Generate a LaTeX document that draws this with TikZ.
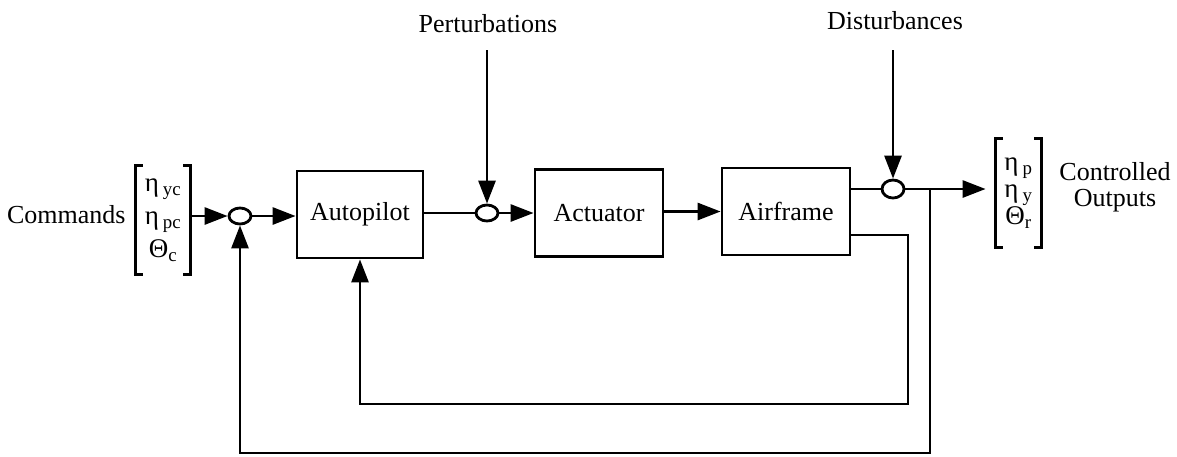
\documentclass[tikz,border=0pt]{standalone}
\usepackage{fontspec}
\setmainfont{Liberation Serif}
\usetikzlibrary{arrows.meta,shapes.geometric,calc}
\begin{document}
\begin{tikzpicture}[x=1pt,y=-1pt,
  line width=2.8pt,
  every node/.style={font=\fontsize{26}{30}\selectfont, inner sep=0pt},
  blockbox/.style={draw, minimum width=126pt, minimum height=87pt},
  sumnode/.style={draw, ellipse, minimum width=22pt, minimum height=16pt},
  sig/.style={-{Triangle[length=23pt,width=17pt]}},
  vecnode/.style={minimum height=106pt, align=center}
]
\useasboundingbox (0,0) rectangle (1177,456);

% nodes
\node[anchor=base east] (cmd) at (127,223) {Commands};
\node[vecnode, minimum width=52pt, font=\fontsize{27}{33}\selectfont] (cv) at (163,220)
  {η\hspace{4pt}\textsubscript{yc}\\ η\hspace{4pt}\textsubscript{pc}\\ Θ\textsubscript{c}};
\node[sumnode] (s1) at (240,216) {};
\node[blockbox] (ap) at (360,214.5) {Autopilot};
\node[sumnode] (s2) at (487,213) {};
\node[blockbox, minimum width=128pt] (act) at (599,213) {Actuator};
\node[blockbox, minimum width=128pt] (af) at (786,211.5) {Airframe};
\node[sumnode, minimum height=18pt] (s3) at (893,189) {};
\node[vecnode, minimum width=43pt, font=\fontsize{27}{27}\selectfont] (ov) at (1018.5,193)
  {η\hspace{4pt}\textsubscript{p}\\ η\hspace{4pt}\textsubscript{y}\\ Θ\textsubscript{r}};
\node[align=center, font=\fontsize{26}{26}\selectfont] (co) at (1115,187) {Controlled\\Outputs};
\node[anchor=base] (pert) at (488,32) {Perturbations};
\node[anchor=base] (dist) at (895,29) {Disturbances};

% brackets
\draw ([xshift=7pt]cv.north west) -- (cv.north west) -- (cv.south west) -- ([xshift=7pt]cv.south west);
\draw ([xshift=-7pt]cv.north east) -- (cv.north east) -- (cv.south east) -- ([xshift=-7pt]cv.south east);
\draw ([xshift=7pt]ov.north west) -- (ov.north west) -- (ov.south west) -- ([xshift=7pt]ov.south west);
\draw ([xshift=-7pt]ov.north east) -- (ov.north east) -- (ov.south east) -- ([xshift=-7pt]ov.south east);

% free ends / corners
\coordinate (pin) at (487,50);
\coordinate (din) at (893,50);
\coordinate (br) at (930,189);
\coordinate (ob) at (930,453);
\coordinate (ib) at (908,404);
\coordinate (afo) at (850,235);

% connectors
\draw[sig] (cv.east |- s1.west) -- (s1.west);
\draw[sig] (s1.east) -- (ap.west |- s1.east);
\draw (ap.east |- s2.west) -- (s2.west);
\draw[sig] (s2.east) -- (act.west |- s2.east);
\draw[sig] (act.east |- af.west) -- (af.west);
\draw (af.east |- s3.west) -- (s3.west);
\draw[sig, shorten >=10pt] (s3.east) -- (ov.west |- s3.east);
\draw[sig] (pin) -- (s2.north);
\draw[sig] (din) -- (s3.north);
\draw[sig] (br) -- (ob) -| (s1.south);
\draw[sig] (af.east |- afo) -- (ib |- afo) -- (ib) -| (ap.south);
\end{tikzpicture}
\end{document}
